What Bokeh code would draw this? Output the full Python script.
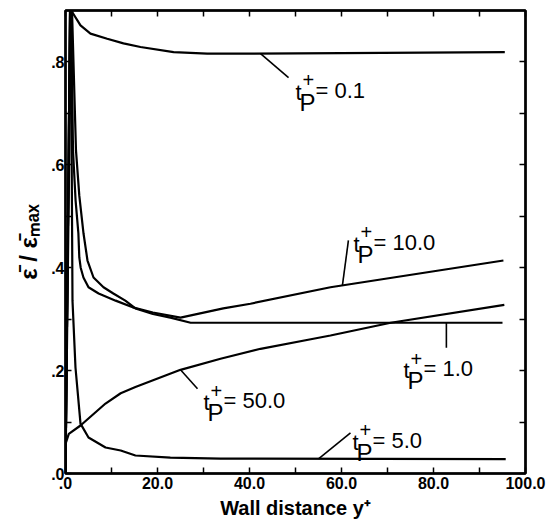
import numpy as np
from bokeh.plotting import figure
from bokeh.models import Range1d, LinearAxis, FixedTicker, CustomJSTickFormatter, Label
from bokeh.embed import file_html
from bokeh.resources import INLINE

# ---------------- data ----------------
# t_P+ = 0.1
x_tp01 = [0.0, 1.3, 1.45, 3.26, 5.43, 9.06, 12.6, 16.3, 23.5, 30.8, 38.0, 60.0, 95.5]
y_tp01 = [0.0, 1.0, 0.897, 0.871, 0.855, 0.845, 0.836, 0.829, 0.819, 0.816, 0.816, 0.817, 0.819]
# t_P+ = 1.0
x_tp1 = [0.0, 1.1, 2.28, 3.0, 3.91, 4.78, 6.09, 8.26, 10.4, 13.0, 15.2, 19.0, 22.8, 27.2, 40.0, 95.0]
y_tp1 = [0.0, 1.0, 0.628, 0.54, 0.467, 0.414, 0.381, 0.362, 0.350, 0.336, 0.321, 0.310, 0.303, 0.293, 0.293, 0.293]
# t_P+ = 5.0
x_tp5 = [0.0, 1.1, 1.52, 2.17, 3.26, 5.0, 8.7, 12.0, 15.2, 22.8, 33.7, 95.7]
y_tp5 = [0.0, 1.0, 0.336, 0.206, 0.097, 0.070, 0.0505, 0.0447, 0.035, 0.031, 0.029, 0.028]
# t_P+ = 10.0
x_tp10 = [0.0, 1.1, 1.63, 2.2, 2.8, 3.0, 3.3, 3.9, 5.0, 7.2, 10.9, 14.6, 19.0, 25.0, 34.3, 40.2, 57.6, 95.2]
y_tp10 = [0.0, 1.0, 0.628, 0.53, 0.467, 0.42, 0.40, 0.381, 0.362, 0.350, 0.336, 0.323, 0.313, 0.303, 0.321, 0.330, 0.362, 0.414]
# t_P+ = 50.0
x_tp50 = [0.0, 0.72, 3.26, 8.7, 12.0, 15.2, 25.0, 33.7, 42.4, 53.9, 57.6, 70.7, 95.4]
y_tp50 = [0.0577, 0.0771, 0.0933, 0.136, 0.156, 0.168, 0.2015, 0.223, 0.2424, 0.262, 0.2683, 0.293, 0.3278]

series_labels = ["0.1", "1.0", "5.0", "10.0", "50.0"]
x_ticks = [0, 20, 40, 60, 80, 100]
x_minor = [10, 30, 50, 70, 90]
y_ticks = [0.0, 0.2, 0.4, 0.6, 0.8]
y_minor = [0.1, 0.3, 0.5, 0.7]

# ---------------- figure ----------------
W, H = 555, 529
BL, BR, BT, BB = 65, 30, 10, 56
FW, FH = W - BL - BR, H - BT - BB
X0, X1, Y0, Y1 = 0.0, 100.0, 0.0, 0.9
XS = FW / (X1 - X0)
YS = FH / (Y1 - Y0)
FONT = "Liberation Sans"

p = figure(width=W, height=H, output_backend="svg", toolbar_location=None,
           x_range=Range1d(X0, X1), y_range=Range1d(Y0, Y1),
           min_border_left=BL, min_border_right=BR, min_border_top=BT, min_border_bottom=BB)
p.grid.visible = False
p.outline_line_color = "black"
p.outline_line_width = 2.5
p.background_fill_color = "white"
p.border_fill_color = "white"

fmt = CustomJSTickFormatter(code="return tick.toFixed(1).replace(/^0\\./, '.');")
blank = CustomJSTickFormatter(code="return '';")


def style_axis(ax, ticks, minor, show_labels):
    ax.ticker = FixedTicker(ticks=ticks, minor_ticks=minor)
    ax.major_tick_in = 6
    ax.major_tick_out = 0
    ax.minor_tick_in = 6
    ax.minor_tick_out = 0
    ax.axis_line_width = 2
    ax.major_tick_line_width = 1.5
    ax.minor_tick_line_width = 1.5
    if show_labels:
        ax.formatter = fmt
        ax.major_label_text_font = FONT
        ax.major_label_text_font_style = "bold"
        ax.major_label_text_font_size = "16px"
        ax.major_label_text_color = "black"
        ax.axis_label_text_font = FONT
        ax.axis_label_text_font_style = "bold"
        ax.axis_label_text_color = "black"
    else:
        ax.formatter = blank
        ax.major_label_text_font_size = "0px"
        ax.major_label_standoff = 0


xa = p.xaxis[0]
style_axis(xa, x_ticks, x_minor, True)
xa.major_label_standoff = 3
xa.axis_label = "Wall distance y\u207a"
xa.axis_label_text_font_size = "20px"
xa.axis_label_standoff = 5

ya = p.yaxis[0]
style_axis(ya, y_ticks, y_minor, True)
ya.major_label_standoff = 1
ya.axis_label = "\u03b5\u0304 / \u03b5\u0304\u2098\u2090\u2093"
ya.axis_label_text_font_size = "24px"
ya.axis_label_standoff = 6

top = LinearAxis()
style_axis(top, x_ticks, x_minor, False)
p.add_layout(top, "above")
right = LinearAxis()
style_axis(right, y_ticks, y_minor, False)
p.add_layout(right, "right")

curves = [(x_tp01, y_tp01), (x_tp1, y_tp1), (x_tp5, y_tp5), (x_tp10, y_tp10), (x_tp50, y_tp50)]
for xs, ys in curves:
    p.line(xs, ys, line_color="black", line_width=2.2)


# ---------------- annotations ----------------
def add_text(x, y, text, size, dx=0.0, dy=0.0, bold=False):
    p.add_layout(Label(x=x + dx / XS, y=y + dy / YS, text=text, text_font=FONT,
                       text_font_size=f"{size}px",
                       text_font_style="bold" if bold else "normal",
                       text_align="left", text_baseline="alphabetic",
                       text_color="black"))


def tp_label(x, y, value):
    add_text(x, y, "t", 22, dx=-20, dy=-2)
    add_text(x, y, "+", 20, dx=-13, dy=10)
    add_text(x, y, "P", 24, dx=-16, dy=-12)
    add_text(x, y, "= " + value, 22)


# label anchors (data units) and leader lines (point on curve, pixel offset of end)
anchors = [(54.35, 0.7445), (77.83, 0.2041), (66.74, 0.0642), (66.96, 0.4491), (34.35, 0.1419)]
leaders = [(42.4, 28, -24), (82.8, 0, -25), (55.0, 32, 26), (60.2, 6, 45), (25.0, 17, -19)]

x0s, y0s, x1s, y1s = [], [], [], []
for (xs, ys), lab, (ax_, ay_), (lx, ldx, ldy) in zip(curves, series_labels, anchors, leaders):
    tp_label(ax_, ay_, lab)
    ly = float(np.interp(lx, xs, ys))
    x0s.append(lx); y0s.append(ly)
    x1s.append(lx + ldx / XS); y1s.append(ly + ldy / YS)
p.segment(x0s, y0s, x1s, y1s, line_color="black", line_width=1.6)

open("out.html", "w").write(file_html(p, INLINE))
